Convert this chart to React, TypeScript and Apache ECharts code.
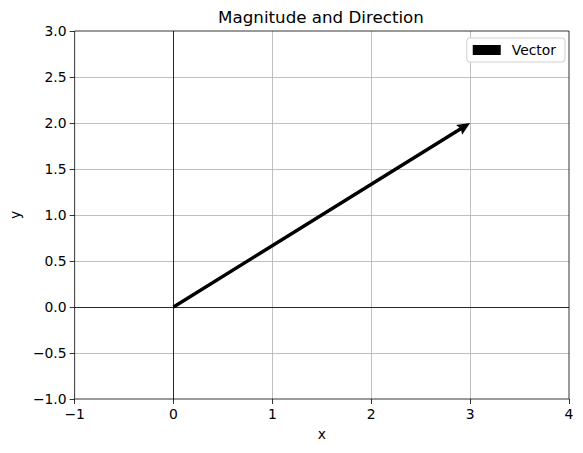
import React, { useEffect, useRef } from "react";
import * as echarts from "echarts";

const TITLE = "Magnitude and Direction";
const X_TICKS = [-1, 0, 1, 2, 3, 4];
const Y_TICKS = [-1.0, -0.5, 0.0, 0.5, 1.0, 1.5, 2.0, 2.5, 3.0];
const ORIGIN = [0, 0];
const VECTOR = [3, 2];
const SERIES_NAME = "Vector";

const minus = (s: string) => s.replace("-", "\u2212");

export default function App() {
  const ref = useRef<HTMLDivElement>(null);
  useEffect(() => {
    if (!ref.current) return;
    const chart = echarts.init(ref.current, undefined, { renderer: "svg" });
    const font = "DejaVu Sans";
    const option: any = {
      animation: false,
      textStyle: { fontFamily: font },
      title: {
        text: TITLE,
        left: 316,
        textAlign: "center",
        top: 3,
        textStyle: { fontFamily: font, fontSize: 16.7, fontWeight: "normal", color: "#000" },
      },
      legend: {
        right: 18,
        top: 38,
        orient: "vertical",
        backgroundColor: "#fff",
        borderColor: "#d0d0d0",
        borderWidth: 1,
        borderRadius: 3,
        padding: [5, 9, 5, 6],
        itemWidth: 28,
        itemHeight: 10,
        itemGap: 6,
        textStyle: { fontFamily: font, fontSize: 13.9, color: "#000", padding: [0, 0, 0, 6] },
        data: [{ name: SERIES_NAME, icon: "rect", itemStyle: { color: "#000" } }],
      },
      grid: {
        left: 73,
        right: 14,
        top: 31,
        bottom: 54,
        show: true,
        borderColor: "#000",
        borderWidth: 0.8,
        backgroundColor: "transparent",
        z: 3,
      },
      xAxis: {
        type: "value",
        min: X_TICKS[0],
        max: X_TICKS[X_TICKS.length - 1],
        interval: 1,
        name: "x",
        nameLocation: "middle",
        nameGap: 28,
        nameTextStyle: { fontFamily: font, fontSize: 13.9, color: "#000" },
        axisLine: { show: false, onZero: false },
        axisTick: { show: true, inside: false, length: 5, lineStyle: { color: "#000", width: 0.8 } },
        axisLabel: {
          color: "#000",
          fontSize: 13.9,
          fontFamily: font,
          margin: 8,
          formatter: (v: number) => minus(String(v)),
        },
        splitLine: { show: true, showMinLine: false, showMaxLine: false, lineStyle: { color: "#b0b0b0", width: 0.8 } },
      },
      yAxis: {
        type: "value",
        min: Y_TICKS[0],
        max: Y_TICKS[Y_TICKS.length - 1],
        interval: 0.5,
        name: "y",
        nameLocation: "middle",
        nameGap: 50,
        nameTextStyle: { fontFamily: font, fontSize: 13.9, color: "#000" },
        axisLine: { show: false, onZero: false },
        axisTick: { show: true, inside: false, length: 5, lineStyle: { color: "#000", width: 0.8 } },
        axisLabel: {
          color: "#000",
          fontSize: 13.9,
          fontFamily: font,
          margin: 8,
          formatter: (v: number) => minus(v.toFixed(1)),
        },
        splitLine: { show: true, showMinLine: false, showMaxLine: false, lineStyle: { color: "#b0b0b0", width: 0.8 } },
      },
      series: [
        {
          name: "axes0",
          type: "line",
          data: [],
          silent: true,
          markLine: {
            silent: true,
            symbol: "none",
            label: { show: false },
            lineStyle: { color: "#000", width: 0.8, type: "solid" },
            data: [{ xAxis: 0 }, { yAxis: 0 }],
          },
        },
        {
          name: SERIES_NAME,
          type: "custom",
          data: [[ORIGIN[0], ORIGIN[1], VECTOR[0], VECTOR[1]]],
          encode: { x: [0, 2], y: [1, 3] },
          itemStyle: { color: "#000" },
          renderItem: (params: any, api: any) => {
            const x0 = api.value(0), y0 = api.value(1);
            const p0 = api.coord([x0, y0]);
            const p1 = api.coord([x0 + api.value(2), y0 + api.value(3)]);
            const dx = p1[0] - p0[0], dy = p1[1] - p0[1];
            const len = Math.sqrt(dx * dx + dy * dy);
            const ux = dx / len, uy = dy / len;
            const nx = -uy, ny = ux;
            const w = 1.7, hw = 5.8, hl = 13, hal = 11.5;
            const pt = (a: number, b: number) => [p0[0] + ux * a + nx * b, p0[1] + uy * a + ny * b];
            const points = [
              pt(0, w),
              pt(len - hal, w),
              pt(len - hl, hw),
              pt(len, 0),
              pt(len - hl, -hw),
              pt(len - hal, -w),
              pt(0, -w),
            ];
            return { type: "polygon", shape: { points }, style: { fill: "#000" } };
          },
          z: 5,
        },
      ],
    };
    chart.setOption(option);
    return () => chart.dispose();
  }, []);
  return <div ref={ref} style={{ width: 583, height: 453, margin: -8 }} />;
}
